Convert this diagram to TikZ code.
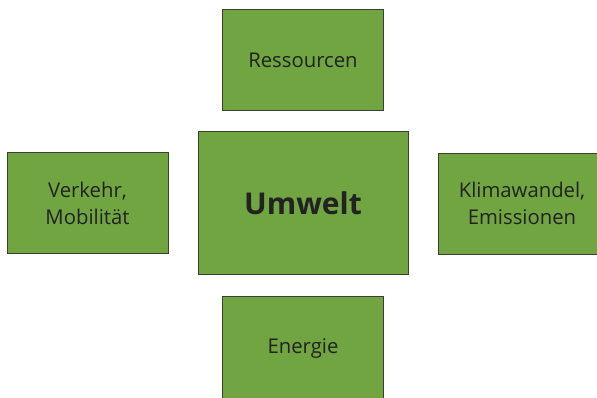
\documentclass[tikz,border=0pt]{standalone}
\usepackage{fontspec}
\setmainfont{Open Sans}
\definecolor{boxgreen}{HTML}{70A542}
\definecolor{boxline}{HTML}{3A3F33}
\definecolor{txt}{HTML}{222222}
\tikzset{
  topicbox/.style={draw=boxline, fill=boxgreen, line width=0.9pt, inner sep=0pt,
    minimum width=161pt, minimum height=101pt, align=center, text=txt,
    font=\fontsize{20.3}{27.5}\selectfont},
  mainbox/.style={topicbox, minimum width=210pt, minimum height=143pt,
    font=\fontsize{30}{36}\selectfont\bfseries}
}
\begin{document}
\begin{tikzpicture}[x=1pt,y=-1pt]
\useasboundingbox (0,0) rectangle (597,398);
\clip (0,0) rectangle (597,398);
\node[topicbox] (res) at (303,60) {Ressourcen};
\node[mainbox] (umw) at (303,203.3) {Umwelt};
\node[topicbox] (ver) at (87.5,203.3) {Verkehr,\\Mobilität};
\node[topicbox, minimum width=172pt] (kli) at (524,203.5) {\hspace*{0pt}Klimawandel,\hspace*{4pt}\\Emissionen\hspace*{4pt}};
\node[topicbox, minimum height=116pt] (ene) at (303,354) {\raisebox{0pt}[\height][\dimexpr\depth+12pt\relax]{Energie}};
\end{tikzpicture}
\end{document}
